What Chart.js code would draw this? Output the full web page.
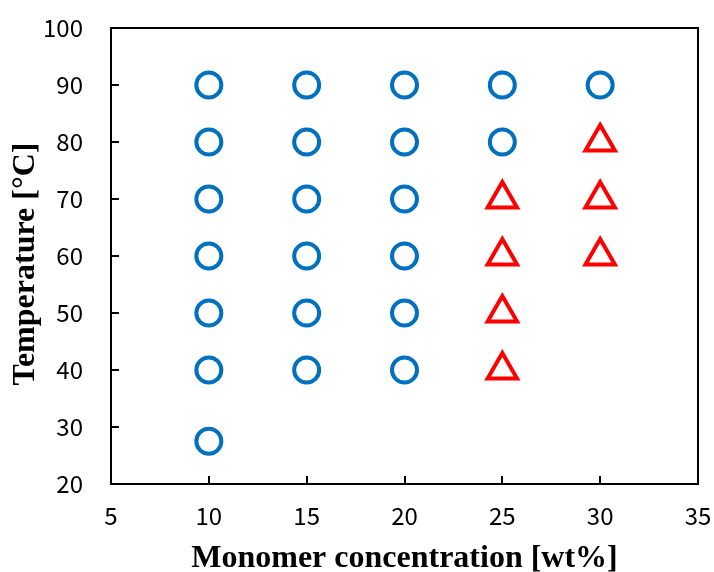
<!DOCTYPE html>
<html>
<head>
<meta charset="utf-8">
<script src="https://cdn.jsdelivr.net/npm/chart.js@4/dist/chart.umd.min.js"></script>
<style>
  html, body { margin: 0; padding: 0; background: #fff; }
  #wrap { width: 714px; height: 572px; }
</style>
</head>
<body>
<div id="wrap"><canvas id="chart"></canvas></div>
<script>
// conditions giving a clear solution (circles)
const circleX = [10, 10, 10, 10, 10, 10, 10, 15, 15, 15, 15, 15, 15, 20, 20, 20, 20, 20, 20, 25, 25, 30];
const circleY = [27.5, 40, 50, 60, 70, 80, 90, 40, 50, 60, 70, 80, 90, 40, 50, 60, 70, 80, 90, 80, 90, 90];
// conditions marked with triangles
const triangleX = [25, 25, 25, 25, 30, 30, 30];
const triangleY = [40, 50, 60, 70, 60, 70, 80];

const xTicks = [5, 10, 15, 20, 25, 30, 35];
const yTicks = [20, 30, 40, 50, 60, 70, 80, 90, 100];

const toPoints = (xs, ys) => xs.map((x, i) => ({ x: x, y: ys[i] }));

// frame around the plot area plus inward tick marks
const framePlugin = {
    id: 'frame',
    afterDatasetsDraw(chart) {
        const { ctx, chartArea: a, scales } = chart;
        ctx.save();
        ctx.strokeStyle = '#000';
        ctx.lineWidth = 2;
        ctx.strokeRect(a.left, a.top, a.right - a.left, a.bottom - a.top);
        ctx.beginPath();
        xTicks.slice(1, -1).forEach(v => {
            const px = Math.round(scales.x.getPixelForValue(v));
            ctx.moveTo(px, a.bottom);
            ctx.lineTo(px, a.bottom - 8);
        });
        yTicks.slice(1, -1).forEach(v => {
            const py = Math.round(scales.y.getPixelForValue(v));
            ctx.moveTo(a.left, py);
            ctx.lineTo(a.left + 8, py);
        });
        ctx.stroke();
        ctx.restore();
    }
};

const tickFont = { family: '"Noto Sans CJK JP", "Noto Sans", sans-serif', size: 24 };
const titleFont = { family: '"Liberation Serif", "Times New Roman", serif', size: 32, weight: 'bold', lineHeight: 0.8 };

new Chart(document.getElementById('chart'), {
    type: 'scatter',
    data: {
        datasets: [
            {
                label: 'circle',
                data: toPoints(circleX, circleY),
                pointStyle: 'circle',
                pointRadius: 12.5,
                pointHoverRadius: 12.5,
                borderWidth: 4,
                borderColor: '#0070C0',
                backgroundColor: 'rgba(0,0,0,0)'
            },
            {
                label: 'triangle',
                data: toPoints(triangleX, triangleY),
                pointStyle: 'triangle',
                pointRadius: 17,
                pointHoverRadius: 17,
                borderWidth: 4,
                borderColor: '#FF0000',
                backgroundColor: 'rgba(0,0,0,0)'
            }
        ]
    },
    options: {
        responsive: true,
        maintainAspectRatio: false,
        animation: false,
        layout: { padding: 0, autoPadding: false },
        plugins: {
            legend: { display: false },
            tooltip: { enabled: false }
        },
        scales: {
            x: {
                type: 'linear',
                min: 5,
                max: 35,
                afterBuildTicks: s => { s.ticks = xTicks.map(v => ({ value: v })); },
                afterFit: s => {
                    s.height = 88;
                    s.paddingLeft = 0;
                    s.paddingRight = 16;
                },
                grid: { display: false, drawTicks: false },
                border: { display: false },
                ticks: { color: '#000', font: tickFont, padding: 17, maxRotation: 0 },
                title: {
                    display: true,
                    text: 'Monomer concentration [wt%]',
                    color: '#000',
                    font: titleFont,
                    padding: { top: 0, bottom: 0 }
                }
            },
            y: {
                type: 'linear',
                min: 20,
                max: 100,
                afterBuildTicks: s => { s.ticks = yTicks.map(v => ({ value: v })); },
                afterFit: s => {
                    s.width = 111;
                    s.paddingTop = 28;
                    s.paddingBottom = 0;
                },
                grid: { display: false, drawTicks: false },
                border: { display: false },
                ticks: { color: '#000', font: tickFont, padding: 28 },
                title: {
                    display: true,
                    text: 'Temperature [°C]  ',
                    color: '#000',
                    font: titleFont,
                    padding: { top: 13, bottom: 0 }
                }
            }
        }
    },
    plugins: [framePlugin]
});
</script>
</body>
</html>
